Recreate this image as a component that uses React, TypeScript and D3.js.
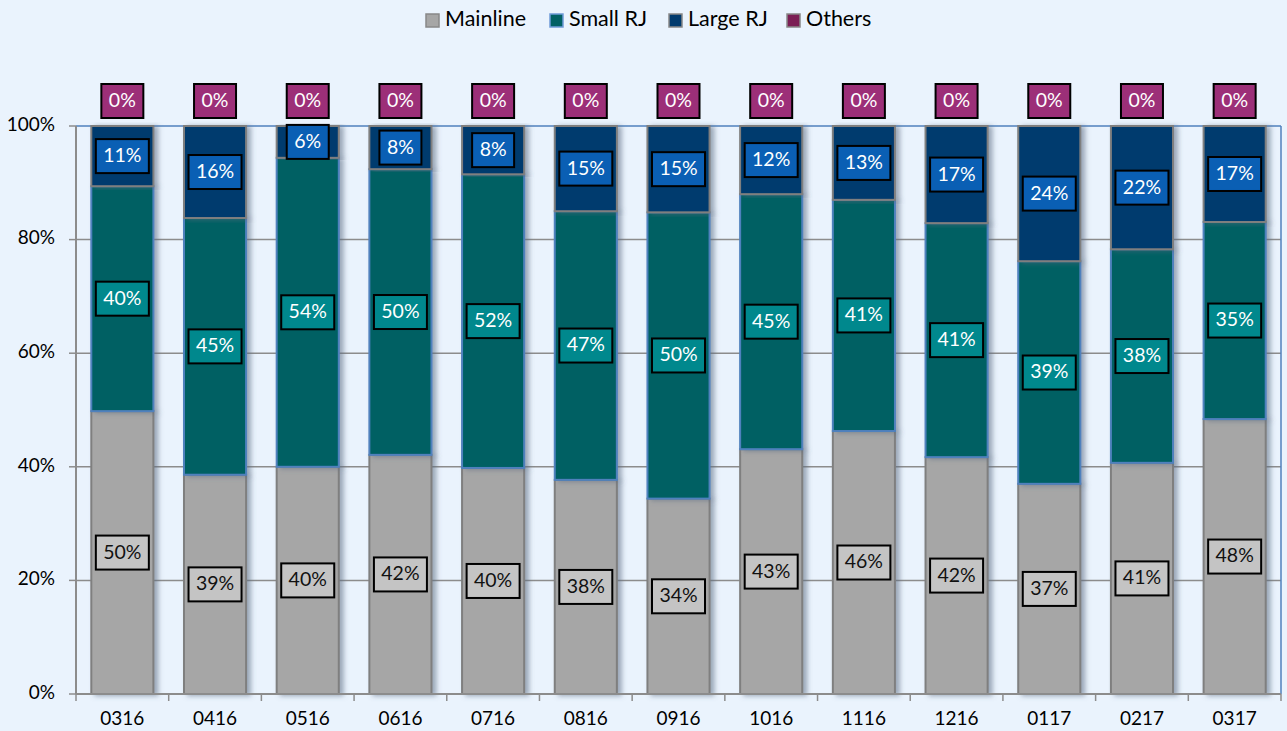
import React from "react";
import * as d3 from "d3";

const categories = ["0316","0416","0516","0616","0716","0816","0916","1016","1116","1216","0117","0217","0317"];
const mainline = [0.498,0.386,0.400,0.421,0.398,0.377,0.344,0.431,0.463,0.417,0.370,0.407,0.484];
const smallRJ = [0.396,0.452,0.544,0.503,0.517,0.473,0.504,0.449,0.407,0.412,0.392,0.376,0.347];
const largeRJ = [0.106,0.162,0.056,0.076,0.085,0.150,0.152,0.120,0.130,0.171,0.238,0.217,0.169];
const others = [0,0,0,0,0,0,0,0,0,0,0,0,0];
const yTicks = [0,0.2,0.4,0.6,0.8,1];

const seriesNames = ["Mainline","Small RJ","Large RJ","Others"];
const seriesFill = ["#a6a6a6","#016064","#003a6e","#7b1e55"];
const seriesStroke = ["#7f7f7f","#4f81bd","#7f7f7f","#7f7f7f"];
const labelFill = ["#c4c4c4","#00888d","#0a5fb4","#9c2f78"];
const labelText = ["#111","#fff","#fff","#fff"];

const W = 1287, H = 731;
const FONT = "Lato, 'Open Sans', sans-serif";

export default function App() {
  const left = 76, right = 1281, top = 126, bottom = 694;
  const x = d3.scaleBand<string>().domain(categories).range([left, right]).paddingInner(0.33).paddingOuter(0.165);
  const band = d3.scaleBand<string>().domain(categories).range([left, right]);
  const y = d3.scaleLinear().domain([0, 1]).range([bottom, top]);

  const rows = categories.map((c, i) => ({ cat: c, s0: mainline[i], s1: smallRJ[i], s2: largeRJ[i], s3: others[i] }));
  const stack = d3.stack<any>().keys(["s0","s1","s2","s3"])(rows);

  const legendX = [425, 549, 668, 786];

  const boxW = (t: string) => t.length * 11 + 20;

  return (
    <svg width={W} height={H} style={{ position: "absolute", left: 0, top: 0, display: "block" }}>
      <defs>
        <filter id="shadow" x="-20%" y="-5%" width="140%" height="110%">
          <feDropShadow dx="4" dy="1" stdDeviation="2.5" floodColor="#5a6b80" floodOpacity="0.55" />
        </filter>
      </defs>
      <rect x={0} y={0} width={W} height={H} fill="#eaf3fd" />
      {/* legend */}
      {seriesNames.map((n, i) => (
        <g key={n}>
          <rect x={legendX[i] + 1} y={14} width={13} height={13} fill={seriesFill[i]} stroke={i === 1 ? "#6f9bd8" : "#888"} strokeWidth={1.5} />
          <text x={legendX[i] + 20} y={20.5} dominantBaseline="middle" fontFamily={FONT} fontSize={21.5} fill="#000">{n}</text>
        </g>
      ))}
      {/* gridlines */}
      {yTicks.map(t => (
        <g key={t}>
          {t > 0 && t < 1 && <line x1={left} x2={right} y1={y(t)} y2={y(t)} stroke="#8c8c8c" strokeWidth={1.5} />}
          <line x1={left - 7} x2={left} y1={y(t)} y2={y(t)} stroke="#8c8c8c" strokeWidth={1.5} />
          <text x={55} y={y(t)} textAnchor="end" dominantBaseline="middle" fontFamily={FONT} fontSize={19} fill="#000">{d3.format(".0%")(t)}</text>
        </g>
      ))}
      {/* plot border top/right */}
      <line x1={left} x2={right} y1={top} y2={top} stroke="#4f81bd" strokeWidth={1.5} />
      <line x1={right} x2={right} y1={top} y2={bottom} stroke="#4f81bd" strokeWidth={1.5} />
      {/* bars */}
      {stack.map((s, si) => (
        <g key={si}>
          {s.map((d: any, i: number) => {
            const h = y(d[0]) - y(d[1]);
            if (h <= 0) return null;
            return (
              <rect key={i} x={x(categories[i])} y={y(d[1])} width={x.bandwidth()} height={h}
                fill={seriesFill[si]} stroke={seriesStroke[si]} strokeWidth={2} filter="url(#shadow)" />
            );
          })}
        </g>
      ))}
      {/* axes */}
      <line x1={left} x2={left} y1={top} y2={bottom} stroke="#8c8c8c" strokeWidth={2} />
      <line x1={left} x2={right} y1={bottom} y2={bottom} stroke="#8c8c8c" strokeWidth={2} />
      {categories.map((c, i) => (
        <g key={c}>
          <line x1={band(c)} x2={band(c)} y1={bottom} y2={bottom + 7} stroke="#8c8c8c" strokeWidth={1.5} />
          {i === categories.length - 1 && <line x1={right} x2={right} y1={bottom} y2={bottom + 7} stroke="#8c8c8c" strokeWidth={1.5} />}
          <text x={band(c)! + band.bandwidth() / 2} y={720} textAnchor="middle" dominantBaseline="middle" fontFamily={FONT} fontSize={19} fill="#000">{c}</text>
        </g>
      ))}
      {/* labels */}
      {stack.map((s, si) => (
        <g key={"l" + si}>
          {s.map((d: any, i: number) => {
            const v = d[1] - d[0];
            const t = Math.round(v * 100) + "%";
            const cx = x(categories[i])! + x.bandwidth() / 2;
            const cy = si === 3 ? y(1) - 25 : (y(d[0]) + y(d[1])) / 2;
            const w = boxW(t);
            return (
              <g key={i}>
                <rect x={cx - w / 2} y={cy - 17} width={w} height={34} fill={labelFill[si]} stroke="#000" strokeWidth={2} />
                <text x={cx} y={cy + 1} textAnchor="middle" dominantBaseline="middle" fontFamily={FONT} fontSize={19.5} fill={labelText[si]}>{t}</text>
              </g>
            );
          })}
        </g>
      ))}
    </svg>
  );
}
